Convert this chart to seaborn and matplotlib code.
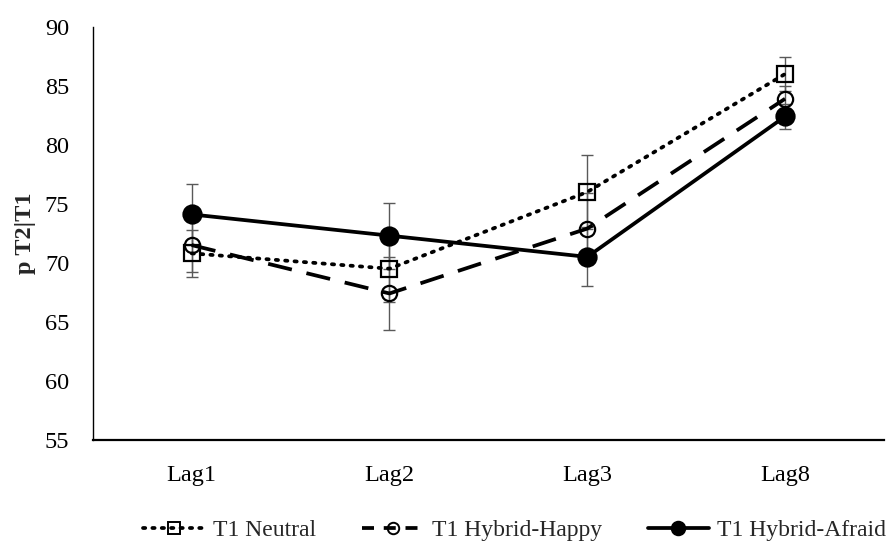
import matplotlib
matplotlib.use("Agg")
import matplotlib.pyplot as plt
import seaborn as sns
import pandas as pd
from matplotlib.lines import Line2D

lags = ["Lag1", "Lag2", "Lag3", "Lag8"]
neutral = [70.8, 69.5, 76.0, 86.0]
happy = [71.5, 67.4, 72.9, 83.9]
afraid = [74.1, 72.3, 70.5, 82.4]
neutral_err = [2.0, 2.8, 3.1, 1.4]
happy_err = [2.3, 3.1, 3.0, 1.1]
afraid_err = [2.6, 2.8, 2.5, 1.1]
series_names = ["T1 Neutral", "T1 Hybrid-Happy", "T1 Hybrid-Afraid"]

sns.set_theme(style="white")
plt.rcParams["font.family"] = ["Liberation Serif", "DejaVu Serif"]

fig = plt.figure(figsize=(8.92, 5.47), dpi=100)
ax = fig.add_axes([0.104, 0.196, 0.887, 0.755])

styles = [
    dict(ls=(0, (0.6, 1.9)), leg_ls=(0, (0.6, 1.9)), marker="s", mfc="none", ms=11, cap="round"),
    dict(ls=(0, (6.5, 4)), leg_ls=(0, (3.2, 2.6)), marker="o", mfc="none", ms=11, cap="butt"),
    dict(ls="-", leg_ls="-", marker="o", mfc="black", ms=13, cap="butt"),
]
vals = [neutral, happy, afraid]
errs = [neutral_err, happy_err, afraid_err]

# error bars
for v, e in zip(vals, errs):
    ax.errorbar(lags, v, yerr=e, fmt="none", ecolor="#595959", elinewidth=1.0,
                capsize=4.5, capthick=1.0, zorder=1)

handles = []
for name, v, st in zip(series_names, vals, styles):
    df = pd.DataFrame({"lag": lags, "val": v})
    sns.lineplot(data=df, x="lag", y="val", ax=ax, color="black", lw=2.7,
                 linestyle=st["ls"], marker=st["marker"], markersize=st["ms"],
                 markerfacecolor=st["mfc"], markeredgecolor="black", markeredgewidth=1.6,
                 sort=False, zorder=3, dash_capstyle=st["cap"])
    handles.append(Line2D([], [], color="black", lw=2.7, linestyle=st["leg_ls"],
                          marker=st["marker"], markersize=st["ms"] * 0.75,
                          markerfacecolor=st["mfc"], markeredgecolor="black",
                          markeredgewidth=1.4, dash_capstyle=st["cap"]))

ax.set_xlim(-0.5, 3.5)
ax.set_ylim(55, 90)
ax.set_yticks([55, 60, 65, 70, 75, 80, 85, 90])
ax.set_xlabel("")
ax.set_ylabel("p T2|T1", fontsize=17.5, fontweight="bold", labelpad=6)
ax.tick_params(axis="y", length=0, pad=17, labelsize=17.5, colors="black")
ax.tick_params(axis="x", length=0, pad=18, labelsize=17.5, colors="black")
for s in ["top", "right"]:
    ax.spines[s].set_visible(False)
ax.spines["left"].set_color("black")
ax.spines["left"].set_linewidth(1.0)
ax.spines["bottom"].set_color("black")
ax.spines["bottom"].set_linewidth(1.6)
ax.grid(False)

leg = fig.legend(handles, series_names, loc="lower center", bbox_to_anchor=(0.577, -0.028),
                 ncol=3, frameon=False, fontsize=17, handlelength=2.6,
                 columnspacing=1.95, handletextpad=0.35)
fig.savefig("out.png", dpi=100)
